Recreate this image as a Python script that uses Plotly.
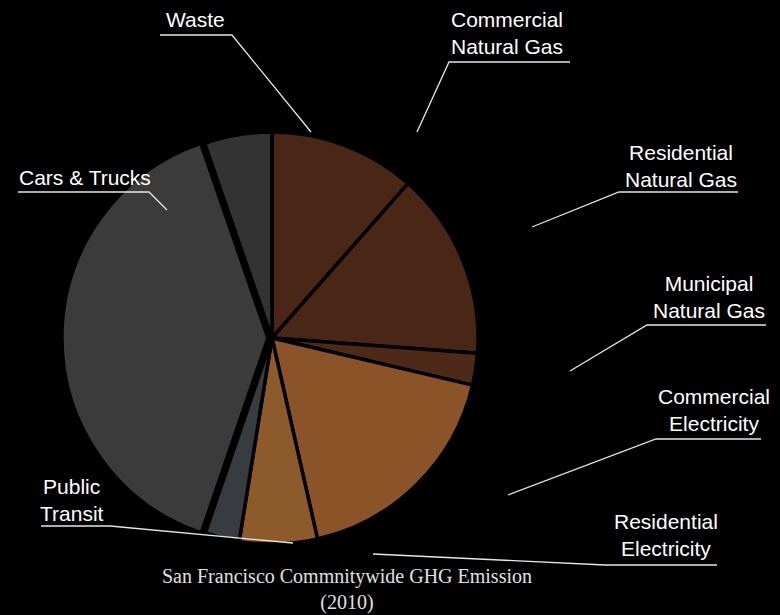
import plotly.graph_objects as go

W, H = 780, 615

# ---- data ----
categories = ["Commercial Natural Gas", "Residential Natural Gas", "Municipal Natural Gas",
              "Commercial Electricity", "Residential Electricity", "Public Transit",
              "Cars & Trucks", "Waste"]
label_text = ["Commercial<br>Natural Gas", "Residential<br>Natural Gas", "Municipal<br>Natural Gas",
              "Commercial<br>Electricity", "Residential<br>Electricity", "Public<br>Transit",
              "Cars & Trucks", "Waste"]
values = [11.5, 14.7, 2.5, 17.8, 6.1, 2.7, 39.5, 5.3]
colors = ["#4a2616", "#4a2616", "#4d2a18", "#8b5428", "#8d5a2c", "#383b40", "#3b3b3b", "#333333"]
pulls = [0, 0, 0, 0, 0, 0, 0.02, 0]

# label layout (pixels): text centre, underline (x0, x1, y), leader end point
text_pos = [(507, 33), (681, 166), (709, 297), (714, 410), (666, 535), (72, 500), (85, 177), (195, 20)]
underline = [(570, 449, 62), (738, 619, 192), (766, 647, 325), (761, 656, 439),
             (717, 605, 565), (41, 110, 526), (18, 149, 192), (160, 232, 35)]
leader_end = [(417, 132), (532, 227), (570, 371), (508, 495), (373, 554), (293, 543), (167, 210), (311, 132)]

title_text = "San Francisco Commnitywide GHG Emission<br>(2010)"


def px(x):
    return x / W


def py(y):
    return 1 - y / H


cx, cy, R = 272, 338, 206
Rd = R * (1 + max(pulls))

fig = go.Figure(go.Pie(
    labels=categories,
    values=values,
    marker=dict(colors=colors, line=dict(color="#000000", width=3.5)),
    pull=pulls,
    sort=False,
    direction="clockwise",
    rotation=0,
    textinfo="none",
    hoverinfo="label+percent",
    showlegend=False,
    domain=dict(x=[px(cx - Rd), px(cx + Rd)], y=[py(cy + Rd), py(cy - Rd)]),
))

shapes = []
annotations = []
for txt, (tx, ty), (ux0, ux1, uy), (lx, ly) in zip(label_text, text_pos, underline, leader_end):
    path = f"M {px(ux0)},{py(uy)} L {px(ux1)},{py(uy)} L {px(lx)},{py(ly)}"
    shapes.append(dict(type="path", xref="paper", yref="paper", path=path,
                       line=dict(color="#e6e6e6", width=1.3)))
    annotations.append(dict(x=px(tx), y=py(ty), xref="paper", yref="paper", text=txt,
                            showarrow=False, xanchor="center", yanchor="middle",
                            font=dict(family="Liberation Sans, Arial", size=21, color="#ffffff")))

annotations.append(dict(x=px(347), y=py(589), xref="paper", yref="paper", text=title_text,
                        showarrow=False, xanchor="center", yanchor="middle", borderpad=0,
                        font=dict(family="Liberation Serif, Times New Roman", size=20,
                                  color="#e0e0e0")))

fig.update_layout(
    width=W, height=H,
    margin=dict(l=0, r=0, t=0, b=0),
    paper_bgcolor="#000000",
    plot_bgcolor="#000000",
    shapes=shapes,
    annotations=annotations,
)

fig.write_html("out.html", config={"displayModeBar": False},
               post_script="document.body.style.margin='0';document.body.style.background='#000';")
